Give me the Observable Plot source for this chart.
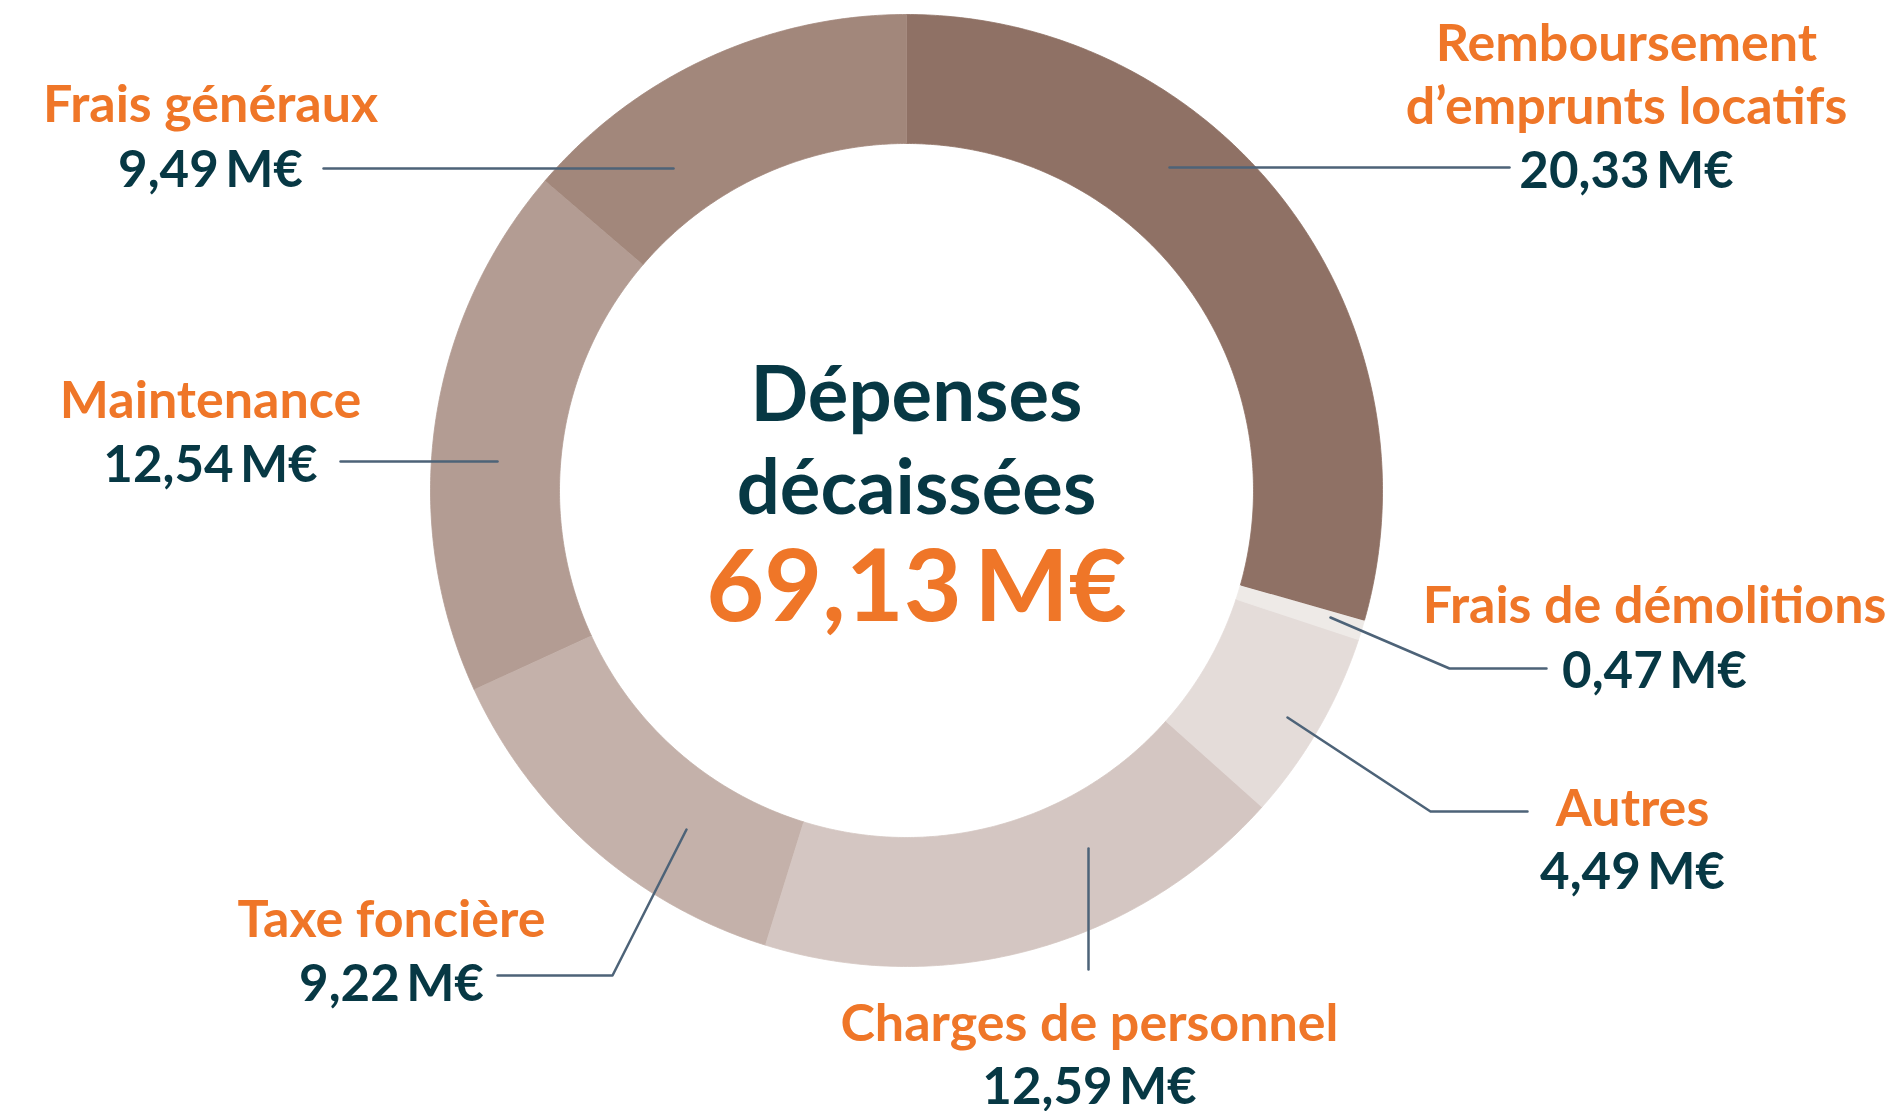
<!DOCTYPE html>
<html><head><meta charset="utf-8">
<script src="https://cdn.jsdelivr.net/npm/d3@7"></script>
<script src="https://cdn.jsdelivr.net/npm/@observablehq/plot@0.6"></script>
<style>
html,body{margin:0;padding:0;background:#fff;}
#chart svg{display:block;}
g[aria-label="values"] text{letter-spacing:-2px;}
g[aria-label="total"] text{letter-spacing:-4px;}
g[aria-label="names"] text{letter-spacing:0px;}
</style>
</head><body><div id="chart"></div>
<script>
// ---- data ----
const categories = ["Remboursement\nd’emprunts locatifs","Frais de démolitions","Autres","Charges de personnel","Taxe foncière","Maintenance","Frais généraux"];
const values = [20.33, 0.47, 4.49, 12.59, 9.22, 12.54, 9.49];
const sliceColors = ["#8f7165","#eeeae7","#e4dcd9","#d4c6c2","#c4b1aa","#b39c93","#a2877b"];
const centerTitle = "Dépenses\ndécaissées";
const unit = "M€";

// ---- layout (annotation placement, pixels) ----
const W = 1900, H = 1111;
const cx = 906, cy = 490, R = 476, r0 = 347;
const labelLayout = [
  {x:1626, nameY:123, valueY:187, leader:[[1169,167],[1509,167]]},
  {x:1654, nameY:622, valueY:687, leader:[[1330,617],[1449,668],[1546,668]]},
  {x:1632, nameY:825, valueY:888, leader:[[1287,717],[1430,811],[1527,811]]},
  {x:1089, nameY:1040, valueY:1103, leader:[[1088,848],[1088,969]]},
  {x:391, nameY:936, valueY:1000, leader:[[686,829],[612,975],[497,975]]},
  {x:210, nameY:417, valueY:481, leader:[[497,461],[340,461]]},
  {x:210, nameY:121, valueY:186, leader:[[673,168],[323,168]]}
];

const fr = v => v.toFixed(2).replace(".", ",");
const total = d3.sum(values);

// slice polygons computed from values
const slicePts = [];
let acc = 0;
values.forEach((v, i) => {
  const a0 = acc / total * 2 * Math.PI;
  acc += v;
  const a1 = acc / total * 2 * Math.PI;
  const n = Math.max(2, Math.ceil((a1 - a0) / (Math.PI / 360)));
  const pts = [];
  for (let k = 0; k <= n; k++) { const a = a0 + (a1 - a0) * k / n; pts.push([cx + R * Math.sin(a), cy - R * Math.cos(a)]); }
  for (let k = n; k >= 0; k--) { const a = a0 + (a1 - a0) * k / n; pts.push([cx + r0 * Math.sin(a), cy - r0 * Math.cos(a)]); }
  pts.forEach(p => slicePts.push({name: categories[i], x: p[0], y: p[1]}));
});

const names = categories.map((c, i) => ({text: c, x: labelLayout[i].x, y: labelLayout[i].nameY}));
const vals = values.map((v, i) => ({text: fr(v) + "\u2009" + unit, x: labelLayout[i].x, y: labelLayout[i].valueY}));
const leaders = [];
labelLayout.forEach((l, i) => l.leader.forEach(p => leaders.push({id: i, x: p[0], y: p[1]})));

const orange = "#ef7628", dark = "#073844";
const font = "Lato, 'Open Sans', sans-serif";

const chart = Plot.plot({
  width: W, height: H, margin: 0,
  x: {domain: [0, W], range: [0, W], axis: null},
  y: {domain: [0, H], range: [0, H], axis: null},
  color: {domain: categories, range: sliceColors},
  style: {background: "#fff", overflow: "visible"},
  marks: [
    Plot.line(slicePts, {x: "x", y: "y", z: "name", fill: "name", stroke: "name", strokeWidth: 0.8}),
    Plot.line(leaders, {x: "x", y: "y", z: "id", stroke: "#4d6378", strokeWidth: 2.5}),
    Plot.text(names, {x: "x", y: "y", text: "text", textAnchor: "middle", lineAnchor: "bottom", lineHeight: 1.21, fill: orange, fontSize: 52, fontWeight: 700, fontFamily: font, ariaLabel: "names"}),
    Plot.text(vals, {x: "x", y: "y", text: "text", textAnchor: "middle", lineAnchor: "bottom", fill: dark, fontSize: 51, fontWeight: 700, fontFamily: font, ariaLabel: "values"}),
    Plot.text([centerTitle], {x: () => 916, y: () => 513, text: d => d, textAnchor: "middle", lineAnchor: "bottom", lineHeight: 1.22, fill: dark, fontSize: 76, fontWeight: 700, fontFamily: font, ariaLabel: "title"}),
    Plot.text([fr(total) + "\u2009" + unit], {x: () => 916, y: () => 620, text: d => d, textAnchor: "middle", lineAnchor: "bottom", fill: orange, fontSize: 100, fontWeight: 700, fontFamily: font, ariaLabel: "total"})
  ]
});
document.getElementById("chart").appendChild(chart);
</script>
</body></html>
